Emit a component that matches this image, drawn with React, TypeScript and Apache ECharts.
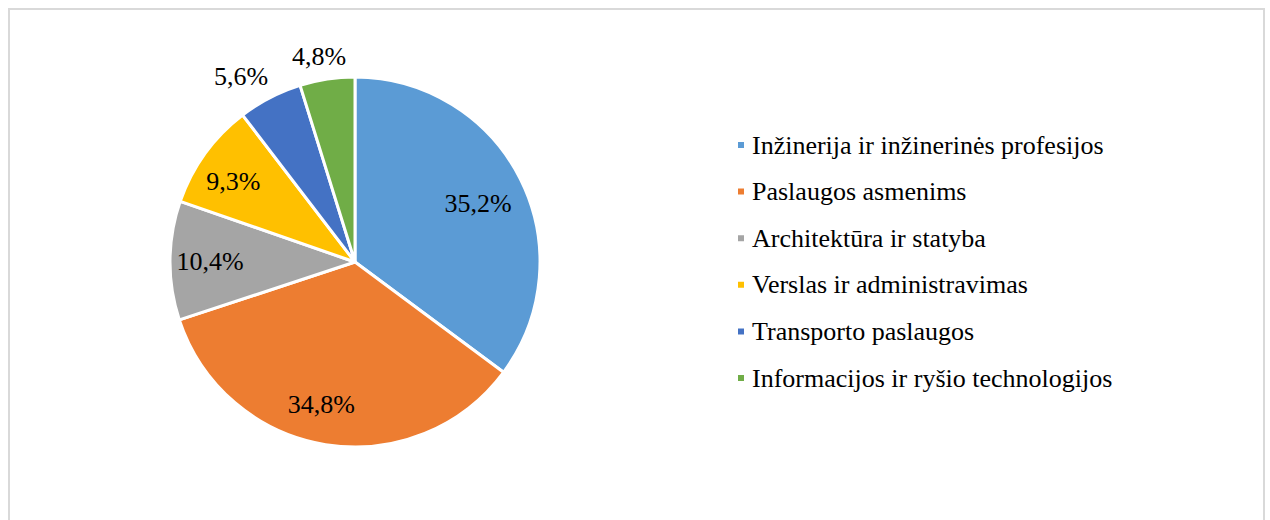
import React, { useEffect, useRef } from "react";
import * as echarts from "echarts";

const categories = [
  "Inžinerija ir inžinerinės profesijos",
  "Paslaugos asmenims",
  "Architektūra ir statyba",
  "Verslas ir administravimas",
  "Transporto paslaugos",
  "Informacijos ir ryšio technologijos",
];
const values = [35.2, 34.8, 10.4, 9.3, 5.6, 4.8];
const colors = ["#5B9BD5", "#ED7D31", "#A5A5A5", "#FFC000", "#4472C4", "#70AD47"];

// layout only: distance of each data label from the pie centre, and a small nudge
const labelDistance = [137, 146, 142, 146, 217, 209];
const labelNudge: [number, number][] = [
  [-2, 4],
  [-10, -5],
  [0, 1],
  [-1, 7],
  [-13, 10],
  [-4, 4],
];

const FONT = "Times New Roman";
const CENTER: [number, number] = [355, 262];

export default function App() {
  const ref = useRef<HTMLDivElement>(null);
  useEffect(() => {
    if (!ref.current) return;
    const chart = echarts.init(ref.current, null, { renderer: "svg" });
    const fmt = (p: any) => p.value.toFixed(1).replace(".", ",") + "%";
    const baseData = categories.map((name, i) => ({
      name,
      value: values[i],
      itemStyle: { color: colors[i] },
    }));
    const labelSeries = categories.map((_, k) => ({
      type: "pie",
      center: CENTER,
      radius: [labelDistance[k] - 10, labelDistance[k] + 10],
      startAngle: 90,
      clockwise: true,
      silent: true,
      avoidLabelOverlap: false,
      labelLine: { show: false },
      itemStyle: { color: "rgba(0,0,0,0)", borderWidth: 0 },
      emphasis: { disabled: true },
      data: categories.map((name, i) => ({
        name,
        value: values[i],
        itemStyle: { color: "rgba(0,0,0,0)" },
        label: { show: i === k, offset: labelNudge[i] },
      })),
      label: {
        position: "inside",
        formatter: fmt,
        color: "#000",
        fontFamily: FONT,
        fontSize: 26,
      },
      z: 5,
    }));
    chart.setOption({
      animation: false,
      backgroundColor: "#fff",
      textStyle: { fontFamily: FONT },
      legend: {
        orient: "vertical",
        left: 731,
        top: 127,
        padding: 5,
        icon: "rect",
        itemWidth: 8,
        itemHeight: 8,
        itemGap: 20.6,
        selectedMode: false,
        data: categories,
        textStyle: {
          fontFamily: FONT,
          fontSize: 26,
          lineHeight: 26,
          color: "#000",
          padding: [0, 0, 0, 2],
        },
      },
      graphic: [
        {
          type: "rect",
          shape: { x: 9, y: 9, width: 1255, height: 600 },
          style: { fill: "none", stroke: "#d9d9d9", lineWidth: 2 },
          silent: true,
        },
      ],
      series: [
        {
          type: "pie",
          center: CENTER,
          radius: [0, 185],
          startAngle: 90,
          clockwise: true,
          avoidLabelOverlap: false,
          label: { show: false },
          labelLine: { show: false },
          itemStyle: { borderColor: "#fff", borderWidth: 3 },
          emphasis: { disabled: true },
          data: baseData,
        },
        ...labelSeries,
      ],
    });
    return () => chart.dispose();
  }, []);
  return (
    <div style={{ position: "absolute", left: 0, top: 0, width: 1270, height: 520 }}>
      <div ref={ref} style={{ width: 1270, height: 520 }} />
    </div>
  );
}
